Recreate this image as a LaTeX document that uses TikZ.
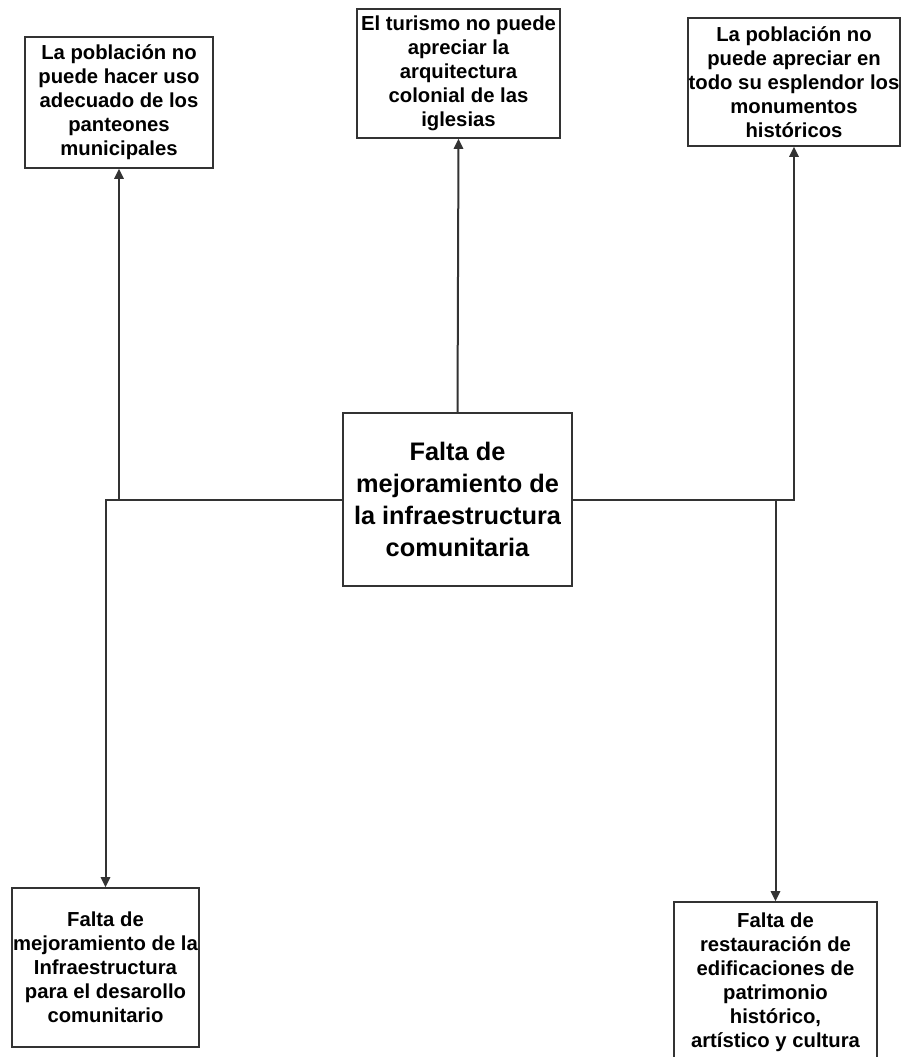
\documentclass[tikz,border=0pt]{standalone}
\usepackage{fontspec}
\setmainfont{Liberation Sans}
\usetikzlibrary{arrows.meta, positioning}

\begin{document}
\begin{tikzpicture}[
    x=0.75pt, y=-0.75pt,
    every node/.style={font=\bfseries\fontsize{15.2}{18}\selectfont},
    effect/.style={
        rectangle,
        align=center,
        inner sep=0pt,
        draw=black!80,
        line width=1.2pt
    },
    hubbox/.style={
        effect,
        font=\bfseries\fontsize{19}{24}\selectfont
    },
    arrow/.style={draw=black!80, line width=1.5pt, -{Triangle[length=7.5pt,width=7pt]}}
]
\useasboundingbox (0,0) rectangle (903,1057);

\node (hub) [hubbox, minimum width=171.75pt, minimum height=129.75pt] at (457.5,499.5)
    {Falta de\\mejoramiento de\\la infraestructura\\comunitaria};

\node (panteones) [effect, minimum width=141pt, minimum height=98.25pt] at (119,102.5)
    {La población no\\puede hacer uso\\adecuado de los\\panteones\\municipales};
\node (turismo) [effect, minimum width=152.25pt, minimum height=96.75pt] at (458.5,73.5)
    {El turismo no puede\\apreciar la\\arquitectura\\colonial de las\\iglesias};
\node (monumentos) [effect, minimum width=159pt, minimum height=96pt] at (794,82)
    {La población no\\puede apreciar en\\todo su esplendor los\\monumentos\\históricos};

\node (desarollo) [effect, minimum width=140.25pt, minimum height=119.25pt] at (105.5,967.5)
    {Falta de\\mejoramiento de la\\Infraestructura\\para el desarollo\\comunitario};
\node (patrimonio) [effect, minimum width=152.25pt, minimum height=120pt] at (775.5,982)
    {Falta de\\restauración de\\edificaciones de\\patrimonio\\histórico,\\artístico y cultura};

\draw [arrow] (hub.north) -- (turismo.south);
\draw [arrow] (hub.west) -| (panteones.south);
\draw [arrow] (hub.west) -| (desarollo.north);
\draw [arrow] (hub.east) -| (monumentos.south);
\draw [arrow] (hub.east) -| (patrimonio.north);

\end{tikzpicture}
\end{document}
